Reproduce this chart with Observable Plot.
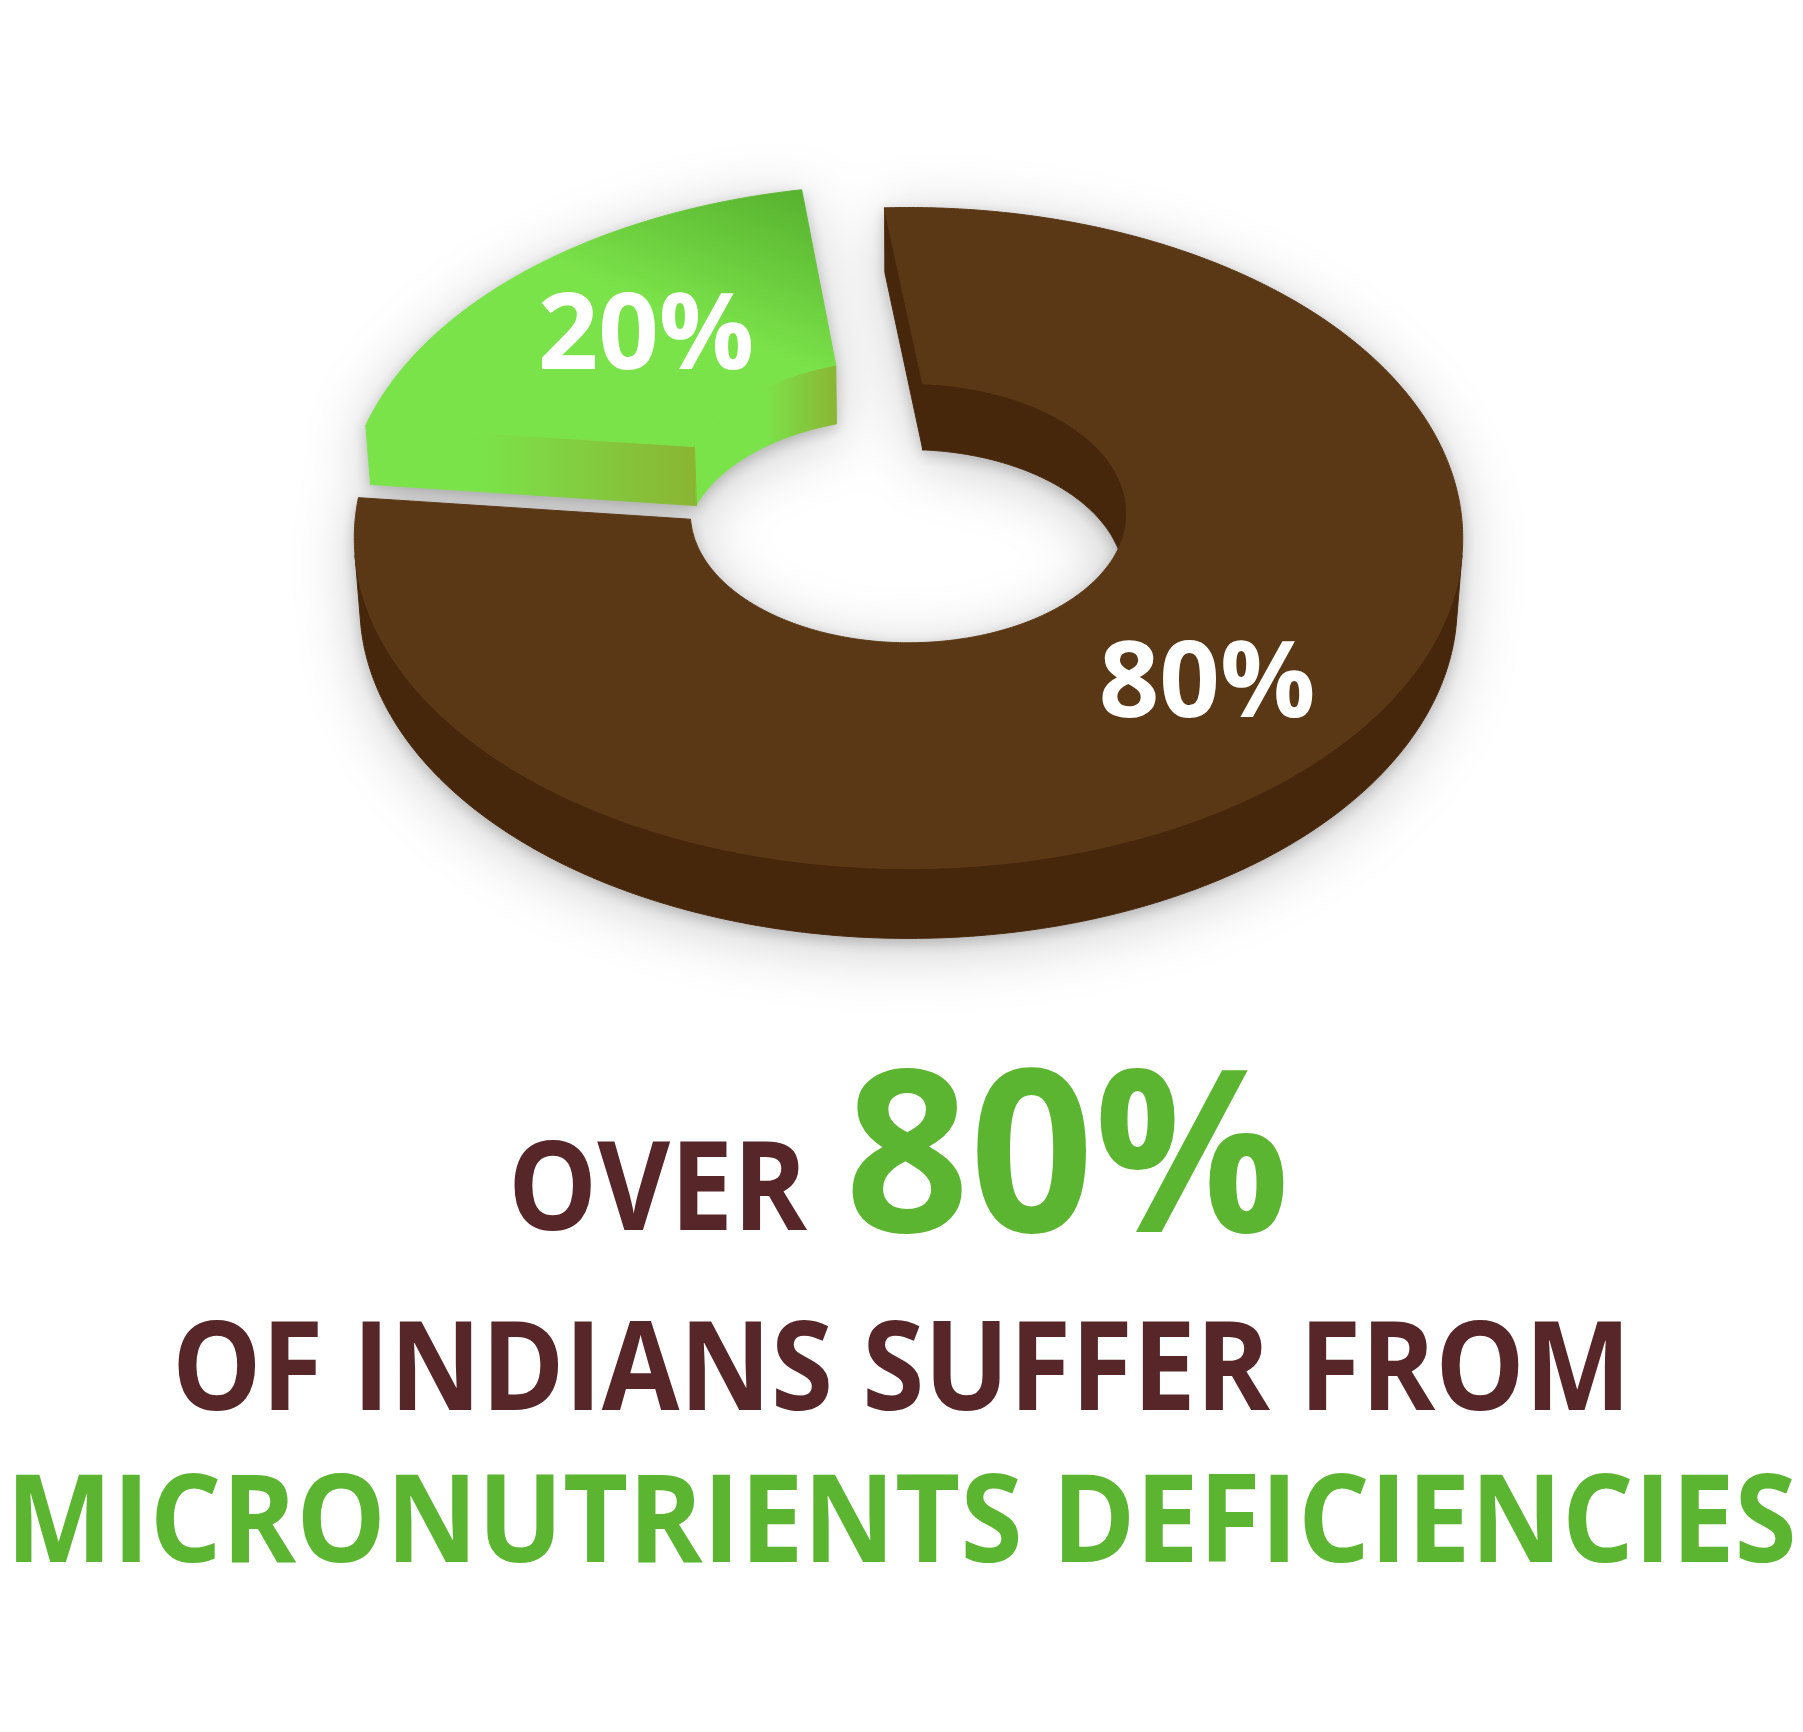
<!DOCTYPE html>
<html>
<head>
<meta charset="utf-8">
<script src="https://cdn.jsdelivr.net/npm/d3@7"></script>
<script src="https://cdn.jsdelivr.net/npm/@observablehq/plot@0.6"></script>
<style>
  html, body { margin: 0; padding: 0; background: #ffffff; }
  #chart svg { display: block; overflow: visible; }
</style>
</head>
<body>
<div id="chart"></div>
<script>
// ---------------- data ----------------
const categories = ["Suffer from micronutrient deficiencies", "Others"];
const shares = [80, 20];
const sliceLabels = ["80%", "20%"];
const headlineLead = "OVER";
const headlineValue = "80%";
const headlineLine2 = "OF INDIANS SUFFER FROM";
const headlineLine3 = "MICRONUTRIENTS DEFICIENCIES";

// ---------------- style / layout ----------------
const W = 1803, H1 = 960, H2 = 1732 - 960;
const deg = Math.PI / 180;
const view = {cx: 908, cy: 508, k: 552, dist: 9, sinTilt: 0.594};
const ring = {outer: 1, inner: 0.395, depth: 0.153};
const labelRadius = [0.725, 0.675];
const pieStart = -7, padDeg = 8;
const explode = [{shift: 0, lift: 0, depth: 1}, {shift: 0.02, lift: 0.045, depth: 0.88}];
const faceColors = [
  {top: "#5a3715", outer: "#47270b", inner: "#47270b", start: "#47270b", end: "#47270b"},
  {top: "url(#gTop)", outer: "url(#gSide)", inner: "url(#gInner)", start: "url(#gSide)", end: "url(#gEnd)"}
];
const maroon = "#572628", green = "#5cb531";

// ---------------- geometry (derived from shares) ----------------
const s = view.sinTilt, c = Math.sqrt(1 - s * s);
const cam = [0, -view.dist * c, view.dist * s];
function proj([X, Y, Z]) {
  const u = Y * s + Z * c;
  const w = view.dist + Y * c - Z * s;
  return [X * view.dist / w, u * view.dist / w];
}
const arcs = d3.pie().sort(null)
  .startAngle(pieStart * deg).endAngle((pieStart + 360) * deg)
  .padAngle(padDeg * deg)(shares);
const padR = Math.hypot(ring.inner, ring.outer);

const wallPolys = [], topPolys = [], labelRows = [];
arcs.forEach((a, i) => {
  const p = padR * Math.sin(a.padAngle / 2);
  const ao0 = a.startAngle + Math.asin(p / ring.outer), ao1 = a.endAngle - Math.asin(p / ring.outer);
  const ai0 = a.startAngle + Math.asin(p / ring.inner), ai1 = a.endAngle - Math.asin(p / ring.inner);
  const mid = (a.startAngle + a.endAngle) / 2;
  const ex = explode[i];
  const off = [ex.shift * Math.sin(mid), ex.shift * Math.cos(mid), ex.lift];
  const P = (r, t, z) => [r * Math.sin(t) + off[0], r * Math.cos(t) + off[1], z + off[2]];
  const step = 0.5 * deg;
  const arcPts = (r, t0, t1, z) => {
    const n = Math.max(2, Math.ceil(Math.abs(t1 - t0) / step));
    return d3.range(n + 1).map(j => P(r, t0 + (t1 - t0) * j / n, z));
  };
  const top = 0, bot = -ring.depth * ex.depth;
  const fc = faceColors[i];
  const visible = (nx, ny, pt) => nx * (cam[0] - pt[0]) + ny * (cam[1] - pt[1]) > 0;
  const runs = (r, t0, t1, sign) => {
    const n = Math.ceil((t1 - t0) / step), out = [];
    let cur = null;
    for (let j = 0; j < n; j++) {
      const ta = t0 + (t1 - t0) * j / n, tb = t0 + (t1 - t0) * (j + 1) / n, tm = (ta + tb) / 2;
      const v = visible(sign * Math.sin(tm), sign * Math.cos(tm), P(r, tm, (top + bot) / 2));
      if (v) { if (!cur) { cur = [ta, tb]; out.push(cur); } else cur[1] = tb; } else cur = null;
    }
    return out;
  };
  for (const [t0, t1] of runs(ring.outer, ao0, ao1, 1))
    wallPolys.push({pts: [...arcPts(ring.outer, t0, t1, top), ...arcPts(ring.outer, t1, t0, bot)], fill: fc.outer, cat: categories[i]});
  for (const [t0, t1] of runs(ring.inner, ai0, ai1, -1))
    wallPolys.push({pts: [...arcPts(ring.inner, t0, t1, top), ...arcPts(ring.inner, t1, t0, bot)], fill: fc.inner, cat: categories[i]});
  // radial end faces
  const sFace = [P(ring.inner, ai0, top), P(ring.outer, ao0, top), P(ring.outer, ao0, bot), P(ring.inner, ai0, bot)];
  const eFace = [P(ring.inner, ai1, top), P(ring.outer, ao1, top), P(ring.outer, ao1, bot), P(ring.inner, ai1, bot)];
  const centroid = f => [d3.mean(f, d => d[0]), d3.mean(f, d => d[1]), d3.mean(f, d => d[2])];
  if (visible(-Math.cos(a.startAngle), Math.sin(a.startAngle), centroid(sFace))) wallPolys.push({pts: sFace, fill: fc.start, cat: categories[i]});
  if (visible(Math.cos(a.endAngle), -Math.sin(a.endAngle), centroid(eFace))) wallPolys.push({pts: eFace, fill: fc.end, cat: categories[i]});
  // top face
  topPolys.push({pts: [...arcPts(ring.outer, ao0, ao1, top), ...arcPts(ring.inner, ai1, ai0, top)], fill: fc.top, cat: categories[i]});
  const [lx, ly] = proj(P(labelRadius[i], mid, top));
  labelRows.push({px: lx, py: ly, label: sliceLabels[i]});
});

const rows = [];
[...wallPolys, ...topPolys].forEach((poly, id) => {
  poly.pts.forEach(pt => { const [px, py] = proj(pt); rows.push({id, px, py, fill: poly.fill, cat: poly.cat}); });
});

// ---------------- plot ----------------
const chart = Plot.plot({
  width: W, height: H1,
  margin: 0,
  style: {background: "transparent", overflow: "visible"},
  x: {domain: [-view.cx / view.k, (W - view.cx) / view.k], range: [0, W], axis: null},
  y: {domain: [view.cy / view.k, (view.cy - H1) / view.k], range: [0, H1], axis: null},
  color: {type: "identity"},
  marks: [
    Plot.line(rows, {x: "px", y: "py", z: "id", fill: "fill", stroke: "fill", strokeWidth: 1, curve: "linear-closed"}),
    Plot.text(labelRows, {x: "px", y: "py", text: "label", fill: "#ffffff", fontSize: 106, fontWeight: 700, fontFamily: "Open Sans, Noto Sans, sans-serif"})
  ]
});

const svg = d3.select(chart);
const defs = svg.insert("defs", ":first-child");
function grad(id, x1, y1, x2, y2, stops) {
  const g = defs.append("linearGradient").attr("id", id).attr("x1", x1).attr("y1", y1).attr("x2", x2).attr("y2", y2);
  stops.forEach(([o, col]) => g.append("stop").attr("offset", o).attr("stop-color", col));
}
grad("gTop", 0.25, 0.85, 0.9, 0.0, [[0, "#7be34a"], [0.5, "#7be34a"], [1, "#58b32f"]]);
grad("gSide", 0, 0, 1, 0, [[0, "#7be34a"], [0.35, "#7be34a"], [0.8, "#86c23a"], [1, "#8ab533"]]);
grad("gInner", 0, 0, 1, 0, [[0, "#7be34a"], [0.5, "#7be34a"], [1, "#8ab533"]]);
grad("gEnd", 0, 0, 1, 0, [[0, "#80d243"], [0.45, "#8ab533"], [1, "#8ab533"]]);
svg.select('g[aria-label="line"]').style("filter",
  "drop-shadow(0px 4px 7px rgba(0,0,0,0.2)) drop-shadow(0px 10px 30px rgba(0,0,0,0.2))");

document.getElementById("chart").appendChild(chart);

// ---------------- caption (headline) ----------------
const cap = d3.create("svg").attr("width", W).attr("height", H2).style("display", "block");
document.getElementById("chart").appendChild(cap.node());
const font = "Open Sans, Noto Sans, sans-serif";
const capLayout = [
  {text: headlineLead, x: 508, y: 1230 - H1, size: 123, fill: maroon, len: 299, weight: 700},
  {text: headlineValue, x: 845, y: 1232 - H1, size: 227, fill: green, len: 445, weight: 700},
  {text: headlineLine2, x: 172, y: 1410 - H1, size: 123, fill: maroon, len: 1459, weight: 700},
  {text: headlineLine3, x: 6, y: 1562 - H1, size: 122, fill: green, len: 1791, weight: 700}
];
capLayout.forEach(d => {
  const t = cap.append("text").attr("x", 0).attr("y", 0)
    .attr("font-family", font).attr("font-size", d.size).attr("font-weight", d.weight)
    .attr("fill", d.fill).text(d.text);
  const natural = t.node().getComputedTextLength() || d.len;
  const fs = d.size * d.len / natural;
  t.attr("font-size", fs).attr("transform", `translate(${d.x},${d.y}) scale(1,${d.size / fs})`);
});
</script>
</body>
</html>
